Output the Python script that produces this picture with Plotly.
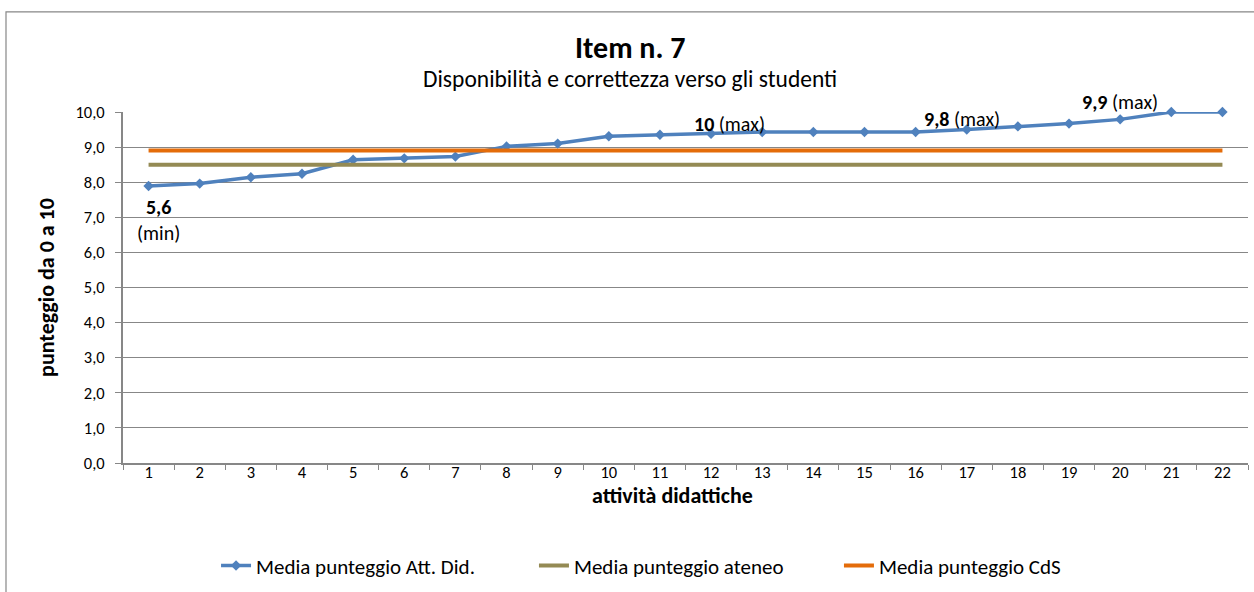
import plotly.graph_objects as go

categories = [str(i) for i in range(1, 23)]
media_att_did = [7.89, 7.96, 8.14, 8.24, 8.64, 8.68, 8.73, 9.02, 9.10, 9.31, 9.35, 9.38,
                 9.43, 9.43, 9.43, 9.43, 9.50, 9.59, 9.67, 9.79, 10.0, 10.0]
media_ateneo = [8.5] * 22
media_cds = [8.9] * 22

title_text = "Item n. 7"
subtitle_text = "Disponibilità e correttezza verso gli studenti"
y_title = "punteggio da 0 a 10"
x_title = "attività didattiche"

FONT = "Carlito, Calibri, Lato, sans-serif"
GRID = "#878787"

fig = go.Figure()
fig.add_trace(go.Scatter(
    x=categories, y=media_att_did, name="Media punteggio Att. Did.", legend="legend",
    mode="lines+markers", line=dict(color="#4F81BD", width=3.5), cliponaxis=False,
    marker=dict(symbol="diamond", size=8, color="#4F81BD")))
fig.add_trace(go.Scatter(
    x=categories, y=media_ateneo, name="Media punteggio ateneo", legend="legend2",
    mode="lines", line=dict(color="#948A54", width=4)))
fig.add_trace(go.Scatter(
    x=categories, y=media_cds, name="Media punteggio CdS", legend="legend3",
    mode="lines", line=dict(color="#E46C0A", width=4)))

# data labels (index of point, text, pixel offsets)
labels = [
    (0, "<b>5,6</b><br>(min)", 10, -34),
    (11, "<b>10</b> (max)", 18, 10),
    (16, "<b>9,8</b> (max)", -5, 11),
    (19, "<b>9,9</b> (max)", 0, 17),
]
for idx, txt, xs, ys in labels:
    fig.add_annotation(x=idx, y=media_att_did[idx], text=txt,
                       showarrow=False, xshift=xs, yshift=ys, yanchor="middle",
                       font=dict(family=FONT, size=20, color="black"))

fig.add_annotation(xref="paper", yref="paper", x=0.451, y=1.185, yanchor="middle",
                   text="<b>" + title_text + "</b>",
                   showarrow=False, font=dict(family=FONT, size=30, color="black"))
fig.add_annotation(xref="paper", yref="paper", x=0.451, y=1.094, yanchor="middle",
                   text=subtitle_text,
                   showarrow=False, font=dict(family=FONT, size=23.5, color="black"))
# x axis title
fig.add_annotation(xref="paper", yref="paper", x=0.488, y=-0.0912, yanchor="middle",
                   text="<b>" + x_title + "</b>",
                   showarrow=False, font=dict(family=FONT, size=22, color="black"))

# outer border
fig.add_shape(type="rect", xref="paper", yref="paper",
              x0=-0.104, x1=1.01, y0=-0.38, y1=1.285,
              line=dict(color=GRID, width=1.2), fillcolor="rgba(0,0,0,0)")

leg_font = dict(family=FONT, size=21, color="black")
fig.update_layout(
    width=1254, height=592,
    margin=dict(l=123, r=6, t=112, b=129),
    paper_bgcolor="white", plot_bgcolor="white",
    separators=",.",
    font=dict(family=FONT, size=16, color="black"),
    showlegend=True,
    legend=dict(orientation="h", x=0.0827, xanchor="left", y=-0.293, yanchor="middle", font=leg_font),
    legend2=dict(orientation="h", x=0.3653, xanchor="left", y=-0.293, yanchor="middle", font=leg_font),
    legend3=dict(orientation="h", x=0.6364, xanchor="left", y=-0.293, yanchor="middle", font=leg_font),
)
fig.update_xaxes(
    type="category", range=[-0.5, 21.5], tickson="boundaries", ticks="outside", ticklen=5,
    tickcolor=GRID, showline=True, linecolor=GRID, linewidth=2, showgrid=False,
    ticklabelstandoff=-7,
    tickfont=dict(family=FONT, size=16.5, color="black"),
)
fig.update_yaxes(
    range=[0, 10], dtick=1, tickformat=".1f", ticks="outside", ticklen=6, tickcolor=GRID,
    showline=True, linecolor=GRID, linewidth=2, showgrid=True, gridcolor=GRID, gridwidth=1,
    zeroline=False, ticklabelstandoff=7,
    tickfont=dict(family=FONT, size=16.5, color="black"),
    title=dict(text="<b>" + y_title + "</b>", font=dict(family=FONT, size=22, color="black"), standoff=15),
)

fig.write_html("out.html", config={"displayModeBar": False},
               post_script="document.body.style.margin='0';")
